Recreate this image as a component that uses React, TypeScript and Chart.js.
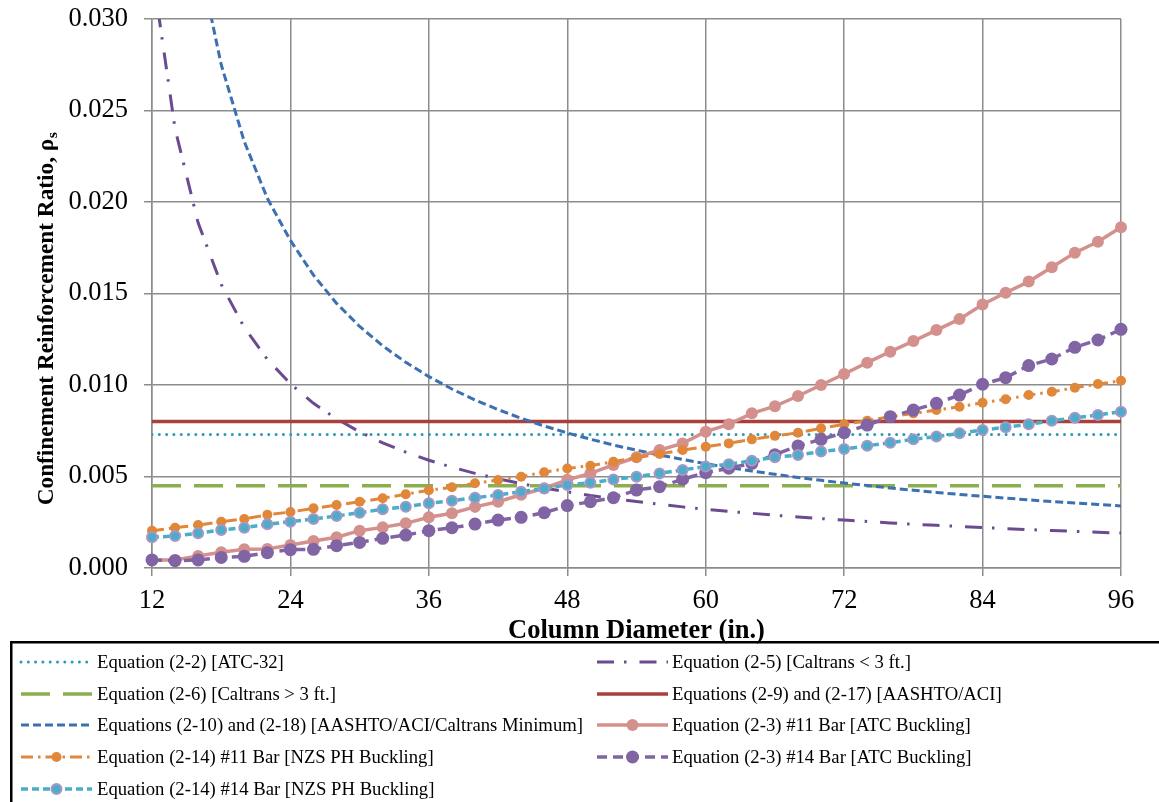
import React, { useEffect, useRef } from 'react';
import { Chart, registerables } from 'chart.js';

Chart.register(...registerables);

// Column diameters (in.)
const diameters = [12, 14, 16, 18, 20, 22, 24, 26, 28, 30, 32, 34, 36, 38, 40, 42, 44, 46, 48, 50, 52, 54, 56, 58, 60, 62, 64, 66, 68, 70, 72, 74, 76, 78, 80, 82, 84, 86, 88, 90, 92, 94, 96];

// Constant requirements
const atc32Value = 0.0073; // Equation (2-2)
const caltransOver3ftValue = 0.0045; // Equation (2-6)
const aashtoAciValue = 0.008; // Equations (2-9) and (2-17)
const constantRange = [12, 96];

// Equations (2-10) and (2-18) [AASHTO/ACI/Caltrans Minimum]
const aashtoMinimum = [0.0582, 0.0426, 0.0335, 0.0275, 0.0233, 0.0202, 0.0179, 0.016, 0.01446, 0.0132, 0.01214, 0.01124, 0.01046, 0.00978, 0.00918, 0.00866, 0.00818, 0.00776, 0.00738, 0.00704, 0.00672, 0.00644, 0.00617, 0.00593, 0.0057, 0.00549, 0.0053, 0.00512, 0.00495, 0.00479, 0.00464, 0.00451, 0.00437, 0.00425, 0.00413, 0.00402, 0.00392, 0.00382, 0.00372, 0.00363, 0.00355, 0.00347, 0.00339];

// Equation (2-5) [Caltrans < 3 ft.]
const caltransUnder3ft = [0.03277, 0.024, 0.01886, 0.0155, 0.01314, 0.0114, 0.01007, 0.009, 0.00815, 0.00744, 0.00684, 0.00633, 0.00589, 0.00551, 0.00517, 0.00488, 0.00461, 0.00437, 0.00416, 0.00396, 0.00379, 0.00363, 0.00348, 0.00334, 0.00321, 0.00309, 0.00299, 0.00288, 0.00279, 0.0027, 0.00262, 0.00254, 0.00246, 0.00239, 0.00233, 0.00227, 0.00221, 0.00215, 0.0021, 0.00205, 0.002, 0.00195, 0.00191];

// Equation (2-3) #11 Bar [ATC Buckling]
const atcBuckling11 = [0.00044, 0.00044, 0.00066, 0.00086, 0.00102, 0.00104, 0.00126, 0.00148, 0.00168, 0.00204, 0.00222, 0.00244, 0.00277, 0.00299, 0.00334, 0.00362, 0.004, 0.00436, 0.00482, 0.00517, 0.00563, 0.00605, 0.00645, 0.00681, 0.00745, 0.00785, 0.00845, 0.00884, 0.0094, 0.01, 0.0106, 0.01122, 0.01182, 0.0124, 0.013, 0.0136, 0.0144, 0.01504, 0.01565, 0.01643, 0.01723, 0.01783, 0.01862];

// Equation (2-14) #11 Bar [NZS PH Buckling]
const nzsBuckling11 = [0.00204, 0.0022, 0.00235, 0.00253, 0.00268, 0.00291, 0.00306, 0.00326, 0.00344, 0.00362, 0.00381, 0.00403, 0.00425, 0.00441, 0.00463, 0.00481, 0.00499, 0.00523, 0.00544, 0.00559, 0.00581, 0.00603, 0.00623, 0.00645, 0.00663, 0.00681, 0.00703, 0.00722, 0.00739, 0.00763, 0.00785, 0.00805, 0.00827, 0.00845, 0.00863, 0.00881, 0.00903, 0.00922, 0.00945, 0.00963, 0.00985, 0.01005, 0.01023];

// Equation (2-3) #14 Bar [ATC Buckling]
const atcBuckling14 = [0.00044, 0.0004, 0.00044, 0.00058, 0.00064, 0.00084, 0.001, 0.00102, 0.00122, 0.0014, 0.00162, 0.0018, 0.00204, 0.0022, 0.0024, 0.00262, 0.00277, 0.00302, 0.00341, 0.00362, 0.00384, 0.00426, 0.00444, 0.00485, 0.00521, 0.00545, 0.00572, 0.00619, 0.00667, 0.00703, 0.00739, 0.00781, 0.00827, 0.00863, 0.009, 0.00945, 0.01004, 0.0104, 0.01106, 0.01142, 0.01206, 0.01246, 0.01304];

// Equation (2-14) #14 Bar [NZS PH Buckling]
const nzsBuckling14 = [0.00168, 0.00175, 0.0019, 0.00208, 0.0022, 0.00239, 0.00253, 0.00268, 0.00284, 0.00302, 0.00321, 0.00335, 0.00354, 0.00368, 0.00384, 0.00399, 0.00417, 0.00435, 0.00454, 0.00466, 0.00484, 0.00499, 0.00517, 0.00536, 0.00554, 0.00567, 0.00586, 0.00605, 0.00617, 0.00636, 0.0065, 0.00668, 0.00685, 0.00703, 0.00718, 0.00736, 0.00754, 0.00769, 0.00785, 0.00805, 0.00821, 0.00836, 0.00854];

const xTicks = [12, 24, 36, 48, 60, 72, 84, 96];
const yTicks = [0, 0.005, 0.01, 0.015, 0.02, 0.025, 0.03];

const seriesLabels = [
  'Equation (2-2) [ATC-32]',
  'Equation (2-5) [Caltrans < 3 ft.]',
  'Equation (2-6) [Caltrans > 3 ft.]',
  'Equations (2-9) and (2-17) [AASHTO/ACI]',
  'Equations (2-10) and (2-18) [AASHTO/ACI/Caltrans Minimum]',
  'Equation (2-3) #11 Bar [ATC Buckling]',
  'Equation (2-14) #11 Bar [NZS PH Buckling]',
  'Equation (2-3) #14 Bar [ATC Buckling]',
  'Equation (2-14) #14 Bar [NZS PH Buckling]',
];

const SERIF = '"Liberation Serif", "Times New Roman", serif';

const curve = (ys: number[]) => diameters.map((d, i) => ({ x: d, y: ys[i] }));
const flat = (v: number) => constantRange.map((d) => ({ x: d, y: v }));

function buildDatasets() {
  const list: any[] = [
    {
      label: seriesLabels[0], data: flat(atc32Value),
      borderColor: '#2A9AB4', borderWidth: 3, borderDash: [0, 7.3], borderCapStyle: 'round',
      pointRadius: 0,
    },
    {
      label: seriesLabels[1], data: curve(caltransUnder3ft),
      borderColor: '#6A4A90', borderWidth: 3, borderDash: [17, 10, 2.5, 13],
      pointRadius: 0,
    },
    {
      label: seriesLabels[2], data: flat(caltransOver3ftValue),
      borderColor: '#8CAF4E', borderWidth: 3.5, borderDash: [29, 13],
      pointRadius: 0,
    },
    {
      label: seriesLabels[3], data: flat(aashtoAciValue),
      borderColor: '#A8403B', borderWidth: 3.5,
      pointRadius: 0,
    },
    {
      label: seriesLabels[4], data: curve(aashtoMinimum),
      borderColor: '#3C70B0', borderWidth: 3, borderDash: [8, 4],
      pointRadius: 0,
    },
    {
      label: seriesLabels[5], data: curve(atcBuckling11),
      borderColor: '#D4908D', borderWidth: 3.5,
      pointRadius: 6, pointBackgroundColor: '#D4908D', pointBorderColor: '#D4908D', pointBorderWidth: 0,
      clip: false,
    },
    {
      label: seriesLabels[6], data: curve(nzsBuckling11),
      borderColor: '#E0873A', borderWidth: 3, borderDash: [12, 5, 2.5, 5],
      pointRadius: 5, pointBackgroundColor: '#E0873A', pointBorderColor: '#E0873A', pointBorderWidth: 0,
      clip: false,
    },
    {
      label: seriesLabels[7], data: curve(atcBuckling14),
      borderColor: '#8064A4', borderWidth: 3.5, borderDash: [10, 6],
      pointRadius: 6.5, pointBackgroundColor: '#8064A4', pointBorderColor: '#8064A4', pointBorderWidth: 0,
      clip: false,
    },
    {
      label: seriesLabels[8], data: curve(nzsBuckling14),
      borderColor: '#4BADC8', borderWidth: 3.5, borderDash: [7, 4],
      pointRadius: 5, pointBackgroundColor: '#4BADC8', pointBorderColor: '#A996C8', pointBorderWidth: 2,
      clip: false,
    },
  ];
  return list.map((ds, i) => ({
    ...ds,
    fill: false,
    tension: 0,
    pointHoverRadius: ds.pointRadius,
    order: 10 - i,
  }));
}

// legend layout: [datasetIndex, column, row]
const legendLayout: [number, number, number][] = [
  [0, 0, 0], [1, 1, 0],
  [2, 0, 1], [3, 1, 1],
  [4, 0, 2], [5, 1, 2],
  [6, 0, 3], [7, 1, 3],
  [8, 0, 4],
];

const decorPlugin = {
  id: 'decor',
  afterDraw(chart: any) {
    const ctx: CanvasRenderingContext2D = chart.ctx;
    const area = chart.chartArea;
    ctx.save();
    // x-axis title
    ctx.fillStyle = '#000';
    ctx.font = `bold 26.5px ${SERIF}`;
    ctx.textAlign = 'center';
    ctx.textBaseline = 'middle';
    ctx.fillText('Column Diameter (in.)', (area.left + area.right) / 2, 631);

    // y-axis title with subscript
    ctx.save();
    ctx.translate(47, 319);
    ctx.rotate(-Math.PI / 2);
    const mainText = 'Confinement Reinforcement Ratio, ρ';
    ctx.font = `bold 23.3px ${SERIF}`;
    const w1 = ctx.measureText(mainText).width;
    ctx.font = `bold 15.5px ${SERIF}`;
    const w2 = ctx.measureText('s').width;
    const start = -(w1 + w2) / 2;
    ctx.textAlign = 'left';
    ctx.font = `bold 23.3px ${SERIF}`;
    ctx.fillText(mainText, start, 0);
    ctx.font = `bold 15.5px ${SERIF}`;
    ctx.fillText('s', start + w1 + 0.5, 6);
    ctx.restore();

    // legend box
    ctx.strokeStyle = '#000';
    ctx.lineWidth = 2.5;
    ctx.setLineDash([]);
    ctx.strokeRect(11.25, 642.25, 1300, 300);

    const colSample = [[21, 92], [597, 668]];
    const colText = [97, 672];
    const rowY = [662, 694, 725, 757, 789];
    ctx.font = `18.7px ${SERIF}`;
    ctx.textAlign = 'left';
    ctx.textBaseline = 'middle';
    for (const [idx, col, row] of legendLayout) {
      const ds = chart.data.datasets[idx];
      const y = rowY[row];
      const [x0, x1] = colSample[col];
      ctx.save();
      ctx.strokeStyle = ds.borderColor;
      ctx.lineWidth = ds.borderWidth;
      ctx.setLineDash(ds.borderDash || []);
      ctx.lineCap = ds.borderCapStyle || 'butt';
      ctx.beginPath();
      ctx.moveTo(x0, y);
      ctx.lineTo(x1, y);
      ctx.stroke();
      if (ds.pointRadius > 0) {
        ctx.setLineDash([]);
        ctx.beginPath();
        ctx.arc((x0 + x1) / 2, y, ds.pointRadius, 0, Math.PI * 2);
        ctx.fillStyle = ds.pointBackgroundColor;
        ctx.fill();
        if (ds.pointBorderWidth) {
          ctx.lineWidth = ds.pointBorderWidth;
          ctx.strokeStyle = ds.pointBorderColor;
          ctx.stroke();
        }
      }
      ctx.restore();
      ctx.fillStyle = '#000';
      ctx.fillText(ds.label, colText[col], y + 1);
    }
    ctx.restore();
  },
};

export default function App() {
  const canvasRef = useRef<HTMLCanvasElement | null>(null);

  useEffect(() => {
    const canvas = canvasRef.current;
    if (!canvas) return;
    const gridColor = '#8C8C8C';
    const chart = new Chart(canvas, {
      type: 'line',
      data: { datasets: buildDatasets() },
      options: {
        animation: false,
        responsive: false,
        maintainAspectRatio: false,
        events: [],
        layout: { padding: { left: 0, top: 19, right: 38, bottom: 174 } },
        plugins: {
          legend: { display: false },
          tooltip: { enabled: false },
          title: { display: false },
        },
        scales: {
          x: {
            type: 'linear',
            min: 12,
            max: 96,
            afterFit: (scale: any) => {
              scale.height = 60;
              scale.paddingLeft = 0;
              scale.paddingRight = 0;
              scale.paddingTop = 0;
              scale.paddingBottom = 0;
            },
            afterBuildTicks: (scale: any) => { scale.ticks = xTicks.map((v) => ({ value: v })); },
            ticks: {
              color: '#000',
              font: { family: SERIF, size: 26.5 },
              padding: 9,
              maxRotation: 0,
              autoSkip: false,
            },
            grid: { color: gridColor, lineWidth: 1.5, tickLength: 8, drawTicks: true },
            border: { color: gridColor, width: 1.5 },
          },
          y: {
            type: 'linear',
            min: 0,
            max: 0.03,
            afterFit: (scale: any) => {
              scale.width = 152;
              scale.paddingLeft = 0;
              scale.paddingRight = 0;
              scale.paddingTop = 0;
              scale.paddingBottom = 0;
            },
            afterBuildTicks: (scale: any) => { scale.ticks = yTicks.map((v) => ({ value: v })); },
            ticks: {
              color: '#000',
              font: { family: SERIF, size: 26.5 },
              padding: 16,
              callback: (v: any) => Number(v).toFixed(3),
            },
            grid: { color: gridColor, lineWidth: 1.5, tickLength: 8, drawTicks: true },
            border: { color: gridColor, width: 1.5 },
          },
        },
      },
      plugins: [decorPlugin],
    });
    return () => chart.destroy();
  }, []);

  return (
    <div style={{ position: 'absolute', left: 0, top: 0, width: 1159, height: 802, background: '#fff' }}>
      <canvas ref={canvasRef} width={1159} height={802} style={{ display: 'block' }} />
    </div>
  );
}
